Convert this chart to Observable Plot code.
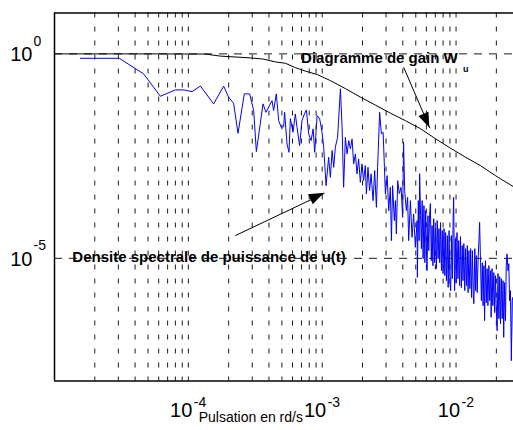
<!DOCTYPE html>
<html>
<head>
<meta charset="utf-8">
<script src="https://cdn.jsdelivr.net/npm/d3@7"></script>
<script src="https://cdn.jsdelivr.net/npm/@observablehq/plot@0.6"></script>
<style>
  html, body { margin: 0; padding: 0; background: #fff; }
  svg { display: block; }
</style>
</head>
<body>
<div id="chart"></div>
<script>
// log10 of pulsation (rd/s) and of the gain W_u
const gainLogFreq = [-5, -4.284, -3.873, -3.761, -3.537, -3.440, -3.350, -3.275, -3.201, -3.126, -3.036, -2.939, -2.827, -2.715, -2.603, -2.491, -2.379, -2.267, -2.155, -2.043, -1.931, -1.818, -1.706, -1.572];
const gainLog = [0, 0, -0.005, -0.054, -0.098, -0.127, -0.196, -0.230, -0.335, -0.421, -0.506, -0.653, -0.849, -1.057, -1.252, -1.448, -1.632, -1.827, -2.072, -2.304, -2.524, -2.732, -2.977, -3.246];

// log10 of pulsation (rd/s) and of the power spectral density of u(t)
const psdLogFreq = [
-4.807,-4.516,-4.334,-4.209,-4.097,-4.035,-3.972,-3.910,-3.811,-3.736,
-3.699,-3.662,-3.629,-3.582,-3.542,-3.512,-3.492,-3.442,-3.420,-3.375,
-3.363,-3.343,-3.325,-3.307,-3.288,-3.281,-3.263,-3.248,-3.238,-3.218,
-3.201,-3.188,-3.169,-3.151,-3.133,-3.118,-3.101,-3.083,-3.068,-3.056,
-3.038,-3.019,-3.001,-2.989,-2.971,-2.952,-2.939,-2.926,-2.914,-2.902,
-2.885,-2.864,-2.852,-2.840,-2.827,-2.814,-2.802,-2.789,-2.777,-2.765,
-2.752,-2.740,-2.728,-2.715,-2.703,-2.691,-2.678,-2.670,-2.658,-2.646,
-2.635,-2.620,-2.608,-2.595,-2.586,-2.571,-2.558,-2.545,-2.535,-2.528,
-2.515,-2.503,-2.491,-2.483,-2.474,-2.461,-2.453,-2.446,-2.436,-2.424,
-2.411,-2.399,-2.392,-2.384,-2.371,-2.362,-2.354,-2.341,-2.329,-2.317,
-2.304,-2.291,
-2.289,-2.282,-2.276,-2.272,-2.265,-2.259,-2.253,-2.246,-2.240,-2.233,
-2.227,-2.220,-2.217,-2.210,-2.204,-2.198,-2.192,-2.185,-2.179,-2.173,
-2.167,-2.160,-2.154,-2.147,-2.141,-2.134,-2.128,-2.122,-2.116,-2.109,
-2.103,-2.097,-2.090,-2.084,-2.078,-2.072,-2.065,-2.059,-2.052,-2.046,
-2.040,-2.034,-2.028,-2.022,-2.018,-2.011,-2.005,-1.999,-1.993,-1.986,
-1.980,-1.973,-1.967,-1.960,-1.954,-1.948,-1.942,-1.935,-1.929,-1.922,
-1.916,-1.910,-1.904,-1.897,-1.891,-1.884,-1.878,-1.871,-1.867,-1.860,
-1.854,-1.848,-1.842,-1.835,-1.829,-1.824,-1.817,-1.811,-1.804,-1.798,
-1.792,-1.787,-1.780,-1.774,-1.768,-1.762,-1.755,-1.749,-1.742,-1.738,
-1.731,-1.725,-1.718,-1.712,-1.706,-1.699,-1.693,-1.687,-1.680,-1.674,
-1.668,-1.662,-1.655,-1.649,-1.644,-1.637,-1.631,-1.625,-1.619,-1.612,
-1.606,-1.600,-1.594,-1.587,-1.581,-1.575,-1.568];
const psdLog = [
-0.108,-0.108,-0.489,-1.037,-0.881,-0.881,-0.922,-0.788,-1.223,-0.788,
-1.062,-1.208,-1.942,-0.978,-0.978,-1.387,-2.390,-1.223,-1.429,-1.142,
-1.387,-0.978,-1.632,-1.796,-1.778,-1.429,-2.202,-2.407,-1.583,-1.918,
-1.468,-1.796,-2.243,-1.632,-1.468,-1.370,-1.957,-2.121,-1.835,-2.407,
-1.509,-1.590,-1.918,-2.285,-3.222,-2.529,-3.019,-2.365,-2.774,-2.285,
-2.040,-0.856,-1.754,-3.263,-2.040,-2.446,-2.121,-2.324,-2.079,-2.691,
-2.446,-2.935,-2.569,-3.141,-2.691,-3.099,-2.732,-3.425,-2.774,-3.344,
-2.935,-3.589,-2.855,-3.752,-2.774,-1.429,-1.957,-1.918,-2.774,-3.425,
-2.977,-3.833,-3.263,-4.567,-3.222,-4.078,-3.589,-4.403,-3.099,-3.417,
-3.263,-3.997,-2.162,-3.344,-3.833,-3.508,-4.567,-3.589,-4.486,-3.914,
-4.731,-4.078,
-5.465,-3.589,-4.567,-2.928,-3.956,-4.763,-3.589,-5.007,-3.711,-5.105,
-3.833,-4.934,-5.301,-3.956,-4.812,-3.956,-3.662,-5.056,-4.200,-5.179,
-4.029,-5.105,-4.249,-5.252,-4.078,-5.007,-4.273,-5.105,-4.127,-5.301,
-4.322,-5.374,-4.273,-5.423,-4.371,-5.546,-4.445,-5.709,-4.322,-5.594,
-5.790,-4.445,-5.497,-4.078,-3.508,-5.790,-4.518,-5.594,-4.371,-5.497,
-4.567,-5.668,-4.469,-5.717,-4.689,-5.546,-4.640,-5.790,-4.763,-5.668,
-4.689,-5.839,-4.812,-5.741,-4.763,-5.961,-4.812,-5.912,-6.108,-4.763,
-5.790,-4.934,-5.839,-4.983,-4.567,-4.119,-5.105,-6.035,-5.105,-6.157,
-5.179,-6.524,-5.056,-6.084,-5.252,-6.157,-5.179,-6.035,-5.301,-6.443,
-5.252,-6.157,-5.350,-6.328,-5.423,-6.279,-6.769,-5.374,-6.475,-5.448,
-6.597,-5.497,-6.475,-5.546,-6.933,-5.594,-6.524,-5.179,-4.892,-5.301,
-5.130,-6.035,-5.790,-7.502,-6.035,-5.954,-7.820];

// grid and tick labels
const gridX = [2e-5,3e-5,4e-5,5e-5,6e-5,7e-5,8e-5,9e-5,1e-4,2e-4,3e-4,4e-4,5e-4,6e-4,7e-4,8e-4,9e-4,1e-3,2e-3,3e-3,4e-3,5e-3,6e-3,7e-3,8e-3,9e-3,1e-2,2e-2];
const gridY = [1, 1e-5];
const xTickValues = [1e-4, 1e-3, 1e-2];
const xTickExps = ["-4", "-3", "-2"];
const yTickValues = [1, 1e-5];
const yTickExps = ["0", "-5"];

// annotations (data coordinates)
const arrows = [
  {x1: 4.06e-3, y1: 0.47, x2: 6.37e-3, y2: 1.53e-2},
  {x1: 2.24e-4, y1: 3.59e-5, x2: 1.04e-3, y2: 3.89e-4}
];
const labels = [
  {x: 6.95e-4, y: 0.589, text: "Diagramme de gain W", size: 15},
  {x: 1.125e-2, y: 0.369, text: "u", size: 9},
  {x: 1.36e-5, y: 8.3e-6, text: "Densite spectrale de puissance de u(t)", size: 15}
];

const gain = gainLogFreq.map((f, i) => ({f: 10 ** f, v: 10 ** gainLog[i]}));
const psd = psdLogFreq.map((f, i) => ({f: 10 ** f, v: 10 ** psdLog[i]}));

const font = "'Liberation Sans', Arial, Helvetica, sans-serif";

const svg = Plot.plot({
  width: 513,
  height: 430,
  marginLeft: 54,
  marginRight: 0,
  marginTop: 12.5,
  marginBottom: 49.5,
  style: {fontFamily: font, background: "#fff", color: "#000", overflow: "visible"},
  x: {type: "log", domain: [1e-5, 0.02686], axis: null},
  y: {type: "log", domain: [1e-8, 10], axis: null},
  marks: [
    Plot.ruleX(gridX, {stroke: "#000", strokeWidth: 0.9, strokeDasharray: "5,9"}),
    Plot.ruleY(gridY, {stroke: "#000", strokeWidth: 0.9, strokeDasharray: "8,7"}),
    Plot.line(psd, {x: "f", y: "v", stroke: "#0000ff", strokeWidth: 1, clip: true}),
    Plot.line(gain, {x: "f", y: "v", stroke: "#000", strokeWidth: 1, clip: true}),
    Plot.ruleY([1e-8, 10], {stroke: "#000", strokeWidth: 1.5}),
    Plot.ruleX([1e-5], {stroke: "#000", strokeWidth: 1.5}),
    Plot.link(arrows, {x1: "x1", y1: "y1", x2: "x2", y2: "y2", stroke: "#000", strokeWidth: 1}),
    Plot.text(labels, {x: "x", y: "y", text: "text", fontSize: d => d.size, fontWeight: "bold", textAnchor: "start", lineAnchor: "bottom", fill: "#000"}),
    // axis tick labels
    Plot.text(xTickValues, {x: d => d, frameAnchor: "bottom", text: () => "10", fontSize: 20, textAnchor: "end", lineAnchor: "bottom", dx: 4, dy: 36.2, fill: "#000"}),
    Plot.text(xTickValues, {x: d => d, frameAnchor: "bottom", text: (d, i) => xTickExps[i], fontSize: 14, textAnchor: "start", lineAnchor: "bottom", dx: 5.5, dy: 25.5, fill: "#000"}),
    Plot.text(yTickValues, {y: d => d, frameAnchor: "left", text: () => "10", fontSize: 20, textAnchor: "end", lineAnchor: "bottom", dx: -22, dy: 7.5, fill: "#000"}),
    Plot.text(yTickValues, {y: d => d, frameAnchor: "left", text: (d, i) => yTickExps[i], fontSize: 14, textAnchor: "start", lineAnchor: "bottom", dx: -21, dy: -8, fill: "#000"}),
    Plot.text(["Pulsation en rd/s"], {x: () => 1.194e-4, frameAnchor: "bottom", text: d => d, fontSize: 14, textAnchor: "start", lineAnchor: "bottom", dy: 41.2, fill: "#000"})
  ]
});

// filled arrowheads, placed through the plot's own scales
const sx = svg.scale("x"), sy = svg.scale("y");
arrows.forEach(a => {
  const x1 = sx.apply(a.x1), y1 = sy.apply(a.y1), x2 = sx.apply(a.x2), y2 = sy.apply(a.y2);
  const dx = x2 - x1, dy = y2 - y1, len = Math.hypot(dx, dy);
  const ux = dx / len, uy = dy / len, L = 15, W = 5.5;
  const bx = x2 - ux * L, by = y2 - uy * L;
  const pts = [[x2, y2], [bx - uy * W, by + ux * W], [bx + uy * W, by - ux * W]];
  d3.select(svg).append("path")
    .attr("d", "M" + pts.map(p => p.join(",")).join("L") + "Z")
    .attr("fill", "#000");
});

document.getElementById("chart").appendChild(svg);
</script>
</body>
</html>
